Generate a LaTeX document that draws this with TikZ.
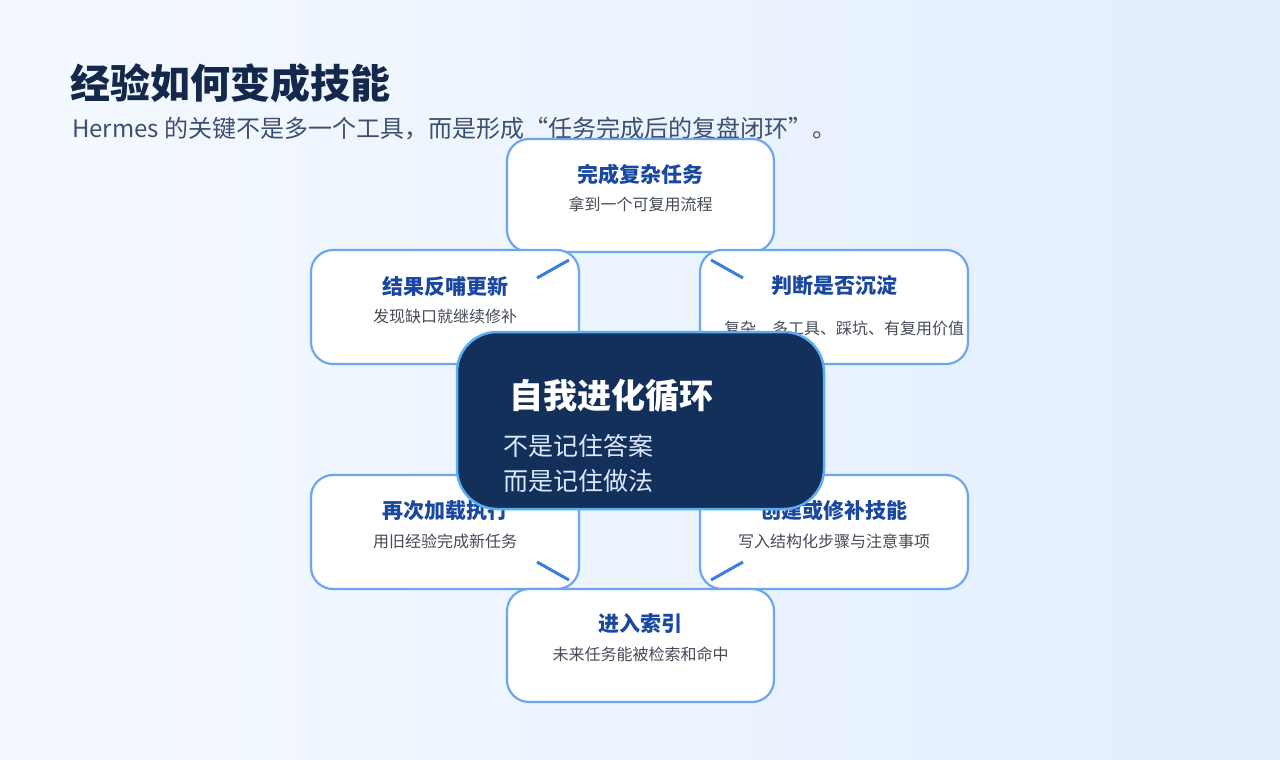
\documentclass[tikz,border=0pt]{standalone}
\usepackage{fontspec}
\setmainfont{Noto Sans CJK SC}
\definecolor{ttl}{HTML}{14284B}
\definecolor{sub}{HTML}{3C5070}
\definecolor{bt}{HTML}{1A48A0}
\definecolor{bs}{HTML}{444B57}
\definecolor{bd}{HTML}{6BA6F0}
\definecolor{ln}{HTML}{3A7FE0}
\definecolor{dk}{HTML}{13305A}
\definecolor{cb}{HTML}{5AAEF5}
\definecolor{cl}{HTML}{DCE8FF}
\definecolor{bgA}{HTML}{F5F9FF}
\definecolor{bgD}{HTML}{E2EEFD}
\begin{document}
\begin{tikzpicture}[x=1pt,y=-1pt,
  card/.style={draw=bd,line width=2.2pt,fill=white,rounded corners=22pt},
  ctitle/.style={font=\fontsize{21}{25}\selectfont\bfseries,text=bt},
  csub/.style={font=\fontsize{16}{20}\selectfont,text=bs,align=center,text width=230pt},
  seg/.style={draw=ln,line width=3pt}]
\shade[left color=bgA,right color=bgD] (0,0) rectangle (1280,760);
\useasboundingbox (0,0) rectangle (1280,760);
\node[anchor=west,font=\fontsize{40}{46}\selectfont\bfseries,text=ttl,inner sep=0] (title) at (70,83) {经验如何变成技能};
\node[anchor=west,font=\fontsize{24}{28}\selectfont,text=sub,inner sep=0] (subtitle) at (72,129) {Hermes 的关键不是多一个工具，而是形成“任务完成后的复盘闭环”。};
% cards
\draw[card] (507,139) rectangle (774,252);
\node[ctitle] (t1) at (640.5,174) {完成复杂任务};
\node[csub] (s1) at (640.5,204) {拿到一个可复用流程};
\draw[card] (311,250) rectangle (579,364);
\node[ctitle] (t6) at (445,286) {结果反哺更新};
\node[csub] (s6) at (445,316) {发现缺口就继续修补};
\draw[card] (700,250) rectangle (968,364);
\node[ctitle] (t2) at (834,286) {判断是否沉淀};
\node[csub,text width=220pt] (s2) at (834,328) {复杂、多工具、踩坑、有复用价值};
\draw[card] (311,475) rectangle (579,589);
\node[ctitle] (t5) at (445,511) {再次加载执行};
\node[csub] (s5) at (445,541) {用旧经验完成新任务};
\draw[card] (700,475) rectangle (968,589);
\node[ctitle] (t3) at (834,511) {创建或修补技能};
\node[csub] (s3) at (834,541) {写入结构化步骤与注意事项};
\draw[card] (507,589) rectangle (774,702);
\node[ctitle] (t4) at (640.5,624) {进入索引};
\node[csub] (s4) at (640.5,654) {未来任务能被检索和命中};
% segments
\coordinate (a1) at (537,278); \coordinate (a2) at (569,260);
\coordinate (b1) at (711,260); \coordinate (b2) at (743,278);
\coordinate (c1) at (537,562); \coordinate (c2) at (569,580);
\coordinate (d1) at (711,580); \coordinate (d2) at (743,562);
\draw[seg] (a1) -- (a2);
\draw[seg] (b1) -- (b2);
\draw[seg] (c1) -- (c2);
\draw[seg] (d1) -- (d2);
% center
\draw[draw=cb,line width=2.5pt,fill=dk,rounded corners=40pt] (457,332) rectangle (824,509);
\node[anchor=west,font=\fontsize{34}{40}\selectfont\bfseries,text=white,inner sep=0] (ct) at (509,396) {自我进化循环};
\node[anchor=west,font=\fontsize{25}{30}\selectfont,text=cl,inner sep=0] (c1t) at (503,446) {不是记住答案};
\node[anchor=west,font=\fontsize{25}{30}\selectfont,text=cl,inner sep=0] (c2t) at (503,481) {而是记住做法};
\end{tikzpicture}
\end{document}
